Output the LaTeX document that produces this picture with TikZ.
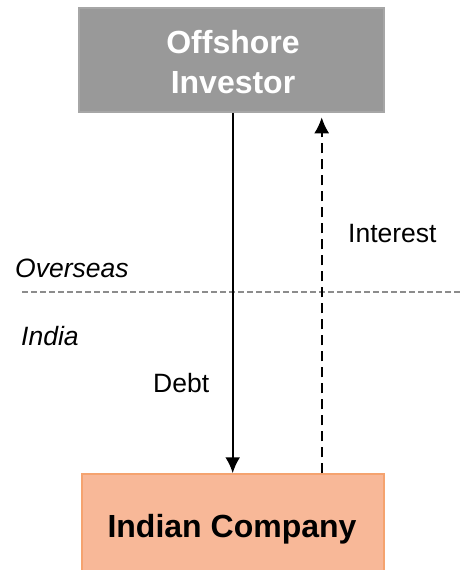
\documentclass[tikz,border=0pt]{standalone}
\usepackage{fontspec}
\setmainfont{Liberation Sans}
\usetikzlibrary{arrows.meta}

\definecolor{investorfill}{HTML}{999999}
\definecolor{investoredge}{HTML}{A6A6A6}
\definecolor{companyfill}{HTML}{F8B898}
\definecolor{companyedge}{HTML}{F5A36F}
\definecolor{bordergrey}{HTML}{8C8C8C}

\begin{document}
\begin{tikzpicture}[x=1pt,y=-1pt,
  partybox/.style={rectangle, line width=1.5pt, inner sep=0pt},
  partytext/.style={font=\bfseries\fontsize{32}{39.4}\selectfont, align=center, inner sep=0pt},
  label/.style={font=\fontsize{26.5}{31}\selectfont, anchor=base west, inner sep=0pt},
  flow/.style={line width=2.2pt, -{Latex[length=16pt,width=15pt]}},
  flowback/.style={flow, dash pattern=on 10pt off 6pt},
  frontier/.style={line width=2.2pt, draw=bordergrey, dash pattern=on 6pt off 3pt}]

\useasboundingbox (0,0) rectangle (461,570);

% the two parties
\node[partybox, fill=investorfill, draw=investoredge,
      minimum width=305pt, minimum height=104pt] (investor) at (231.5,60) {};
\node[partytext, text=white] (investortext) at (233,62) {Offshore\\Investor};

\node[partybox, fill=companyfill, draw=companyedge,
      minimum width=302pt, minimum height=110pt] (company) at (233,529) {};
\node[partytext, anchor=base] (companytext) at (232,537) {Indian Company};

% border between the two jurisdictions
\coordinate (frontierW) at (22,292);
\coordinate (frontierE) at (461,292);
\draw[frontier] (frontierW) -- (frontierE);

% flows of money
\coordinate (debtx) at (232.7,0);
\coordinate (interestx) at (321.7,0);
\draw[flow] (investor.south -| debtx) -- (company.north -| debtx);
\draw[flowback, shorten >=4.5pt] (company.north -| interestx) -- (investor.south -| interestx);

% labels
\node[label] (debtlabel) at (153,392) {Debt};
\node[label] (interestlabel) at (348,242) {Interest};
\node[label, font=\itshape\fontsize{26.5}{31}\selectfont] (overseaslabel) at (15,277) {Overseas};
\node[label, font=\itshape\fontsize{26.5}{31}\selectfont] (indialabel) at (21,345) {India};

\end{tikzpicture}
\end{document}
